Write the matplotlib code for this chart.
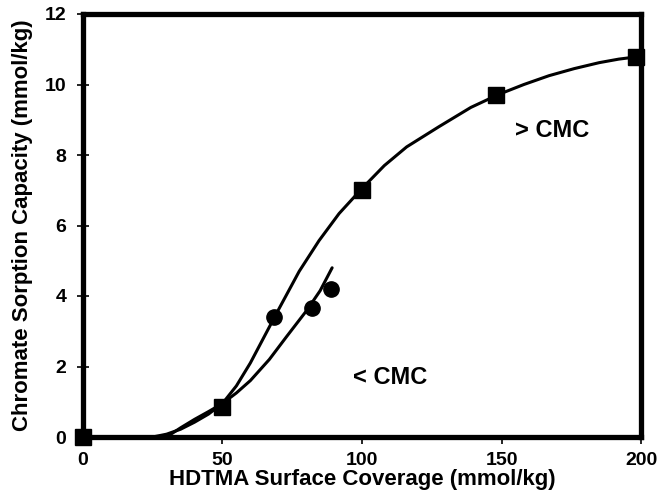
import matplotlib
matplotlib.use('Agg')
import matplotlib.pyplot as plt

plt.rcParams['font.family'] = ['Liberation Sans', 'DejaVu Sans']
plt.rcParams['font.weight'] = 'bold'

# measured points
sq_x = [0, 50, 100, 148, 198]
sq_y = [0.0, 0.86, 7.0, 9.7, 10.78]
circ_x = [68.5, 82, 89]
circ_y = [3.4, 3.65, 4.2]

# fitted curve above CMC
fit_hi_x = [25, 30, 35, 40, 45, 50, 55, 60, 65, 70, 77.5, 84.6, 91.8, 100,
            108, 116, 127.5, 139, 149, 158, 167, 176, 185, 192, 200]
fit_hi_y = [0.0, 0.08, 0.22, 0.42, 0.65, 0.95, 1.45, 2.1, 2.85, 3.6, 4.7, 5.57, 6.34, 7.05,
            7.7, 8.23, 8.8, 9.35, 9.72, 10.0, 10.25, 10.45, 10.62, 10.72, 10.8]

# fitted line below CMC
fit_lo_x = [30, 35, 40, 45, 50, 55, 60, 66.8, 73, 80, 85, 89.3]
fit_lo_y = [0.0, 0.26, 0.5, 0.72, 0.95, 1.25, 1.6, 2.2, 2.85, 3.57, 4.15, 4.8]

fig = plt.figure(figsize=(6.63, 5.0), dpi=100)
ax = fig.add_axes([0.125, 0.126, 0.842, 0.846])

ax.plot(fit_hi_x, fit_hi_y, color='black', lw=2.2, solid_capstyle='round')
ax.plot(fit_lo_x, fit_lo_y, color='black', lw=2.2, solid_capstyle='round')
ax.plot(sq_x, sq_y, 's', color='black', markersize=12, clip_on=False, zorder=5)
ax.plot(circ_x, circ_y, 'o', color='black', markersize=11, zorder=5)

ax.text(168, 8.7, '> CMC', fontsize=17, fontweight='bold', ha='center', va='center')
ax.text(110, 1.7, '< CMC', fontsize=17, fontweight='bold', ha='center', va='center')

ax.set_xlim(0, 200)
ax.set_ylim(0, 12)
ax.set_xticks([0, 50, 100, 150, 200])
ax.set_yticks([0, 2, 4, 6, 8, 10, 12])
for s in ax.spines.values():
    s.set_linewidth(3.8)
ax.tick_params(axis='x', direction='out', length=5, width=1.2, pad=6, labelsize=14)
ax.tick_params(axis='y', direction='inout', length=8, width=1.2, pad=8, labelsize=14)
for lab in ax.get_xticklabels() + ax.get_yticklabels():
    lab.set_fontweight('bold')

ax.set_xlabel('HDTMA Surface Coverage (mmol/kg)', fontsize=16, fontweight='bold', va='center')
ax.xaxis.set_label_coords(0.5, -0.1)
ax.set_ylabel('Chromate Sorption Capacity (mmol/kg)', fontsize=16, fontweight='bold', labelpad=8)

fig.savefig('out.png', dpi=100)
